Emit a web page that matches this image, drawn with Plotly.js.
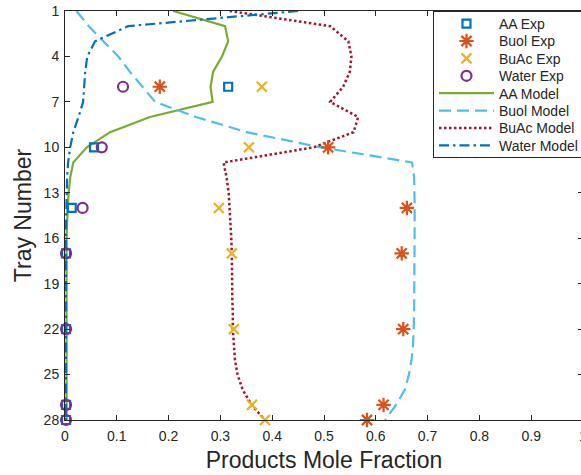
<!DOCTYPE html>
<html>
<head>
<meta charset="utf-8">
<script src="https://cdn.plot.ly/plotly-3.0.1.min.js"></script>
<style>
html, body { margin: 0; padding: 0; overflow: hidden; background: #fff; }
#chart { width: 600px; height: 475px; }
</style>
</head>
<body>
<div id="chart"></div>
<script>
// Experimental trays and values
const expTrays = [6, 10, 14, 17, 22, 27, 28];
const aaExp    = [0.315, 0.056, 0.013, 0.002, 0.002, 0.002, 0.002];
const buolExp  = [0.183, 0.508, 0.660, 0.650, 0.653, 0.615, 0.583];
const buacExp  = [0.380, 0.355, 0.297, 0.322, 0.326, 0.361, 0.386];
const waterExp = [0.112, 0.071, 0.034, 0.002, 0.002, 0.002, 0.002];

// Model trays 1..28
const modelTrays = [1,2,3,4,5,6,7,8,9,10,11,12,13,14,15,16,17,18,19,20,21,22,23,24,25,26,27,28];
const aaModel = [0.209, 0.309, 0.315, 0.303, 0.286, 0.281, 0.285, 0.164, 0.087, 0.042, 0.016, 0.010,
                 0.007, 0.005, 0.004, 0.003, 0.003, 0.003, 0.003, 0.003, 0.003, 0.003, 0.003, 0.003,
                 0.003, 0.003, 0.003, 0.003];
const buolModel = [0.022, 0.046, 0.074, 0.103, 0.125, 0.150, 0.174, 0.253, 0.351, 0.494, 0.670, 0.674,
                   0.675, 0.675, 0.675, 0.675, 0.675, 0.675, 0.675, 0.674, 0.674, 0.673, 0.672, 0.669,
                   0.664, 0.656, 0.639, 0.618];
const buacModel = [0.318, 0.512, 0.547, 0.553, 0.550, 0.537, 0.512, 0.566, 0.557, 0.480, 0.306, 0.312,
                   0.316, 0.318, 0.320, 0.321, 0.322, 0.322, 0.323, 0.323, 0.324, 0.324, 0.326, 0.328,
                   0.333, 0.343, 0.360, 0.386];
const waterModel = [0.450, 0.122, 0.058, 0.043, 0.039, 0.037, 0.035, 0.026, 0.016, 0.010, 0.006, 0.004,
                    0.003, 0.002, 0.002, 0.002, 0.002, 0.002, 0.002, 0.002, 0.002, 0.002, 0.002, 0.002,
                    0.002, 0.002, 0.002, 0.002];

const xTicks = [0, 0.1, 0.2, 0.3, 0.4, 0.5, 0.6, 0.7, 0.8, 0.9, 1];
const xTickText = ['0', '0.1', '0.2', '0.3', '0.4', '0.5', '0.6', '0.7', '0.8', '0.9', '1'];
const yTicks = [1, 4, 7, 10, 13, 16, 19, 22, 25, 28];

const C = {aa: '#0072BD', buol: '#D95319', buac: '#EDB120', water: '#7E2F8E',
           aaM: '#77AC30', buolM: '#4DBEEE', buacM: '#A2142F', waterM: '#0072BD'};

const traces = [
  {name: 'AA Model', x: aaModel, y: modelTrays, mode: 'lines', legendrank: 5,
   line: {color: C.aaM, width: 2.2}},
  {name: 'Buol Model', x: buolModel, y: modelTrays, mode: 'lines', legendrank: 6,
   line: {color: C.buolM, width: 2.2, dash: '12px,6px'}},
  {name: 'BuAc Model', x: buacModel, y: modelTrays, mode: 'lines', legendrank: 7,
   line: {color: C.buacM, width: 2.5, dash: '2.5px,2.5px'}},
  {name: 'Water Model', x: waterModel, y: modelTrays, mode: 'lines', legendrank: 8,
   line: {color: C.waterM, width: 2.2, dash: '10px,4px,2.5px,4px'}},
  {name: 'AA Exp', x: aaExp, y: expTrays, mode: 'markers', legendrank: 1, cliponaxis: false,
   marker: {symbol: 'square-open', size: 8, color: C.aa, line: {width: 2.2, color: C.aa}}},
  {name: 'Buol Exp', x: buolExp, y: expTrays, mode: 'markers', legendrank: 2, cliponaxis: false,
   marker: {symbol: 'asterisk-open', size: 12, color: C.buol, line: {width: 2.2, color: C.buol}}},
  {name: 'BuAc Exp', x: buacExp, y: expTrays, mode: 'markers', legendrank: 3, cliponaxis: false,
   marker: {symbol: 'x-thin-open', size: 10, color: C.buac, line: {width: 2.2, color: C.buac}}},
  {name: 'Water Exp', x: waterExp, y: expTrays, mode: 'markers', legendrank: 4, cliponaxis: false,
   marker: {symbol: 'circle-open', size: 10, color: C.water, line: {width: 2.2, color: C.water}}}
];

const axisCommon = {
  showline: true, linecolor: '#262626', linewidth: 1, mirror: 'ticks',
  ticks: 'inside', ticklen: 5, tickwidth: 1, tickcolor: '#262626',
  showgrid: false, zeroline: false,
  tickfont: {family: 'Liberation Sans, Arial, sans-serif', size: 14, color: '#262626'}
};

const layout = {
  width: 600, height: 475,
  margin: {l: 65, r: 17, t: 11, b: 55},
  paper_bgcolor: '#ffffff', plot_bgcolor: '#ffffff',
  showlegend: true,
  font: {family: 'Liberation Sans, Arial, sans-serif', color: '#262626'},
  xaxis: Object.assign({}, axisCommon, {
    range: [0, 1], tickvals: xTicks, ticktext: xTickText, ticklabelstandoff: 3,
    title: {text: 'Products Mole Fraction', standoff: 9,
            font: {family: 'Liberation Sans, Arial, sans-serif', size: 23, color: '#262626'}}
  }),
  yaxis: Object.assign({}, axisCommon, {
    range: [28, 1], tickvals: yTicks, ticklabelstandoff: 2,
    title: {text: 'Tray Number', standoff: 5,
            font: {family: 'Liberation Sans, Arial, sans-serif', size: 23, color: '#262626'}}
  }),
  legend: {
    x: 0.7104, y: 1, xanchor: 'left', yanchor: 'top',
    bgcolor: '#ffffff', bordercolor: '#262626', borderwidth: 1,
    font: {family: 'Liberation Sans, Arial, sans-serif', size: 14, color: '#262626'},
    itemwidth: 55, tracegroupgap: 0
  }
};

Plotly.newPlot('chart', traces, layout, {displayModeBar: false, staticPlot: true}).then(function (gd) {
  // tighten legend row spacing to match the reference
  const items = gd.querySelectorAll('.legend .traces');
  if (!items.length) return;
  const parse = el => {
    const m = /translate\(\s*([-\d.]+)[ ,]+([-\d.]+)\s*\)/.exec(el.getAttribute('transform') || '');
    return m ? [parseFloat(m[1]), parseFloat(m[2])] : [0, 0];
  };
  const first = parse(items[0]);
  const step = 17.4;
  const y0 = first[1] - 4;
  items.forEach((el, i) => {
    const p = parse(el);
    el.setAttribute('transform', 'translate(' + p[0] + ',' + (y0 + i * step) + ')');
  });
  const h = y0 + (items.length - 1) * step + 12;
  const bg = gd.querySelector('.legend .bg');
  if (bg) bg.setAttribute('height', h);
  gd.querySelectorAll('clipPath[id*="legend"] rect').forEach(r => r.setAttribute('height', h));
});
</script>
</body>
</html>
